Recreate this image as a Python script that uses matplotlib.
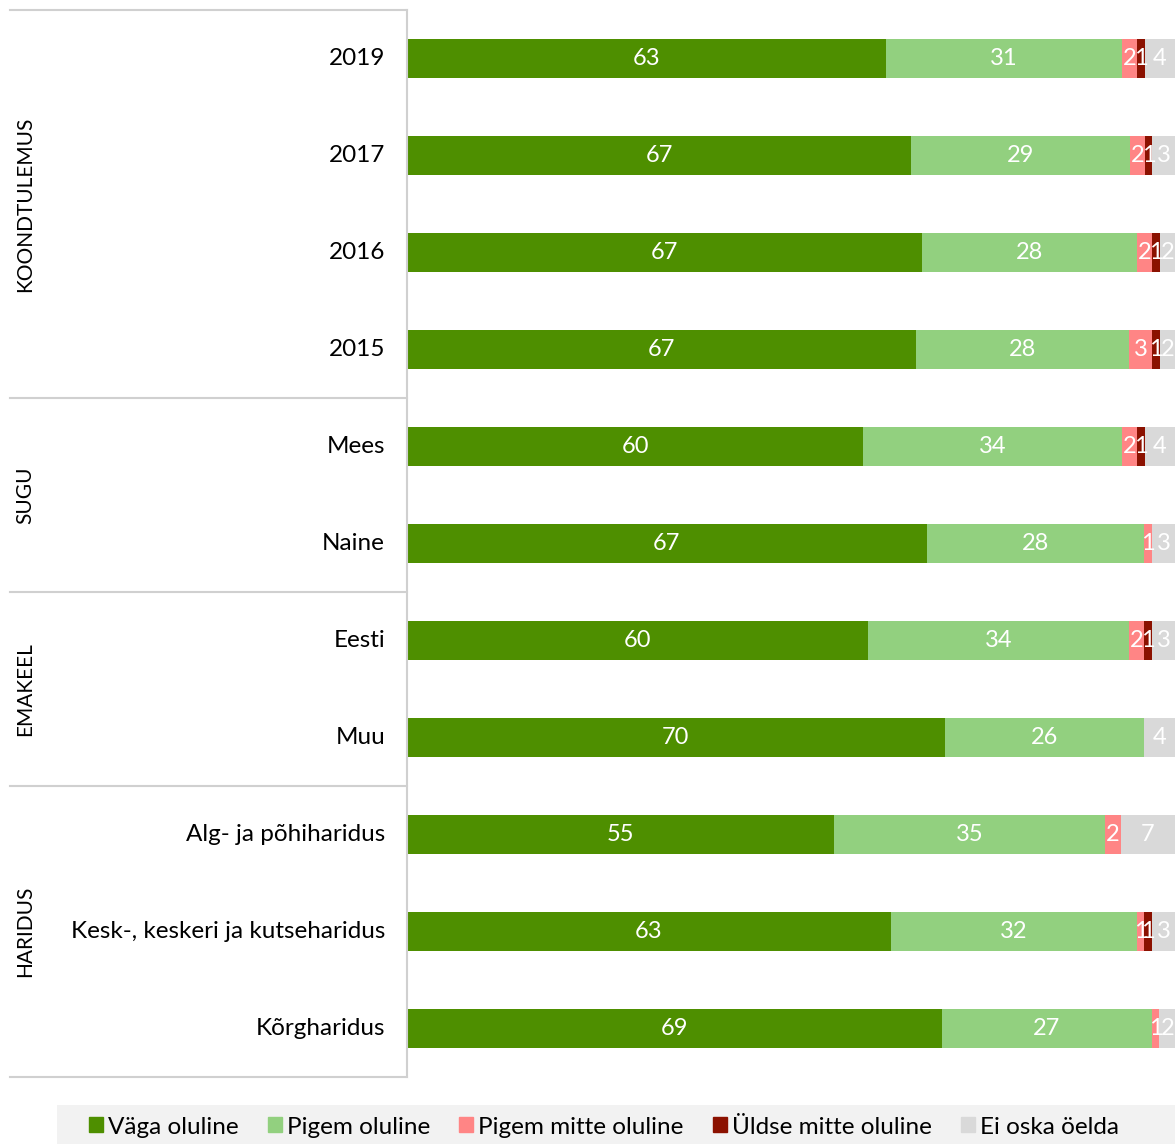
import matplotlib
matplotlib.use("Agg")
import matplotlib.pyplot as plt
import matplotlib.transforms as mtransforms
from matplotlib.patches import Rectangle
from matplotlib.lines import Line2D
import numpy as np

plt.rcParams['font.family'] = ['Lato', 'DejaVu Sans']

categories = ["2019", "2017", "2016", "2015", "Mees", "Naine", "Eesti", "Muu",
              "Alg- ja põhiharidus", "Kesk-, keskeri ja kutseharidus", "Kõrgharidus"]
groups = ["KOONDTULEMUS", "SUGU", "EMAKEEL", "HARIDUS"]
group_sizes = [4, 2, 2, 3]
series_names = ["Väga oluline", "Pigem oluline", "Pigem mitte oluline",
                "Üldse mitte oluline", "Ei oska öelda"]
vaga = [63, 67, 67, 67, 60, 67, 60, 70, 55, 63, 69]
pigem = [31, 29, 28, 28, 34, 28, 34, 26, 35, 32, 27]
pigem_mitte = [2, 2, 2, 3, 2, 1, 2, 0, 2, 1, 1]
uldse = [1, 1, 1, 1, 1, 0, 1, 0, 0, 1, 0]
ei_oska = [4, 3, 2, 2, 4, 3, 3, 4, 7, 3, 2]
colors = ["#4E8F00", "#92D07F", "#FF8585", "#8B1100", "#D9D9D9"]

W, H = 1176, 1144
fig = plt.figure(figsize=(W / 100, H / 100), dpi=100)
x0, x1, ytop, ybot = 407, 1175, 10, 1077
ax = fig.add_axes([x0 / W, (H - ybot) / H, (x1 - x0) / W, (ybot - ytop) / H])

data = np.array([vaga, pigem, pigem_mitte, uldse, ei_oska], dtype=float)
totals = data.sum(axis=0)
shares = data / totals * 100
ypos = np.arange(len(categories))
left = np.zeros(len(categories))
for i in range(len(series_names)):
    ax.barh(ypos, shares[i], left=left, height=0.40, color=colors[i],
            edgecolor='none', label=series_names[i])
    for j in range(len(categories)):
        if data[i, j] > 0:
            ax.text(left[j] + shares[i, j] / 2, ypos[j], f"{int(data[i, j])}",
                    ha='center', va='center', color='white', fontsize=17)
    left += shares[i]

ax.set_xlim(0, 100)
ax.set_ylim(len(categories) - 0.5, -0.5)
ax.axis('off')

# category labels
lab_tr = mtransforms.blended_transform_factory(fig.transFigure, ax.transData)
for j, c in enumerate(categories):
    ax.text(385 / W, ypos[j], c, transform=lab_tr,
            ha='right', va='center', fontsize=17.5, color='black')

# separator lines
tr = mtransforms.blended_transform_factory(fig.transFigure, ax.transData)
bounds = [-0.5]
acc = -0.5
for s in group_sizes:
    acc += s
    bounds.append(acc)
for b in bounds:
    fig.add_artist(Line2D([10 / W, x0 / W], [b, b], transform=tr, color='#D0D0D0', lw=1.5))
fig.add_artist(Line2D([x0 / W, x0 / W], [bounds[0], bounds[-1]], transform=tr, color='#D0D0D0', lw=1.5))

# group labels
for g, b0, b1 in zip(groups, bounds[:-1], bounds[1:]):
    fig.text(25 / W, (b0 + b1) / 2, g, transform=tr, rotation=90,
             ha='center', va='center', fontsize=15)

# legend background
fig.add_artist(Rectangle((57 / W, 0), (1175 - 57) / W, 39 / H, transform=fig.transFigure,
                         facecolor='#F2F2F2', edgecolor='none'))
handles = [Rectangle((0, 0), 1, 1, color=c) for c in colors]
fig.legend(handles, series_names, loc='center', bbox_to_anchor=(604 / W, 1 - 1127 / H),
           ncol=5, frameon=False, fontsize=17.5, handlelength=0.58, handleheight=0.58,
           handletextpad=0.2, columnspacing=1.2, borderpad=0)

fig.savefig("out.png", dpi=100)
